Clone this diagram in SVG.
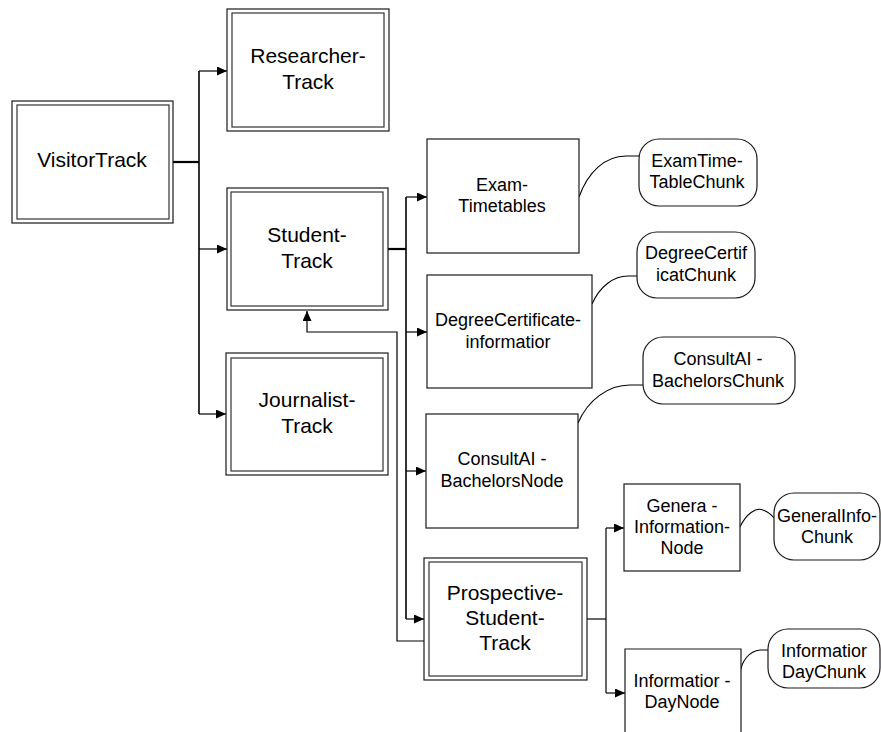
<svg xmlns="http://www.w3.org/2000/svg" width="881" height="732" viewBox="0 0 881 732">
<style>
  .bg { fill: #ffffff; }
  .box { fill: #ffffff; stroke: #1a1a1a; stroke-width: 1.2; }
  .inner { fill: none; stroke: #333333; stroke-width: 1.2; }
  .chunk { fill: #ffffff; stroke: #1a1a1a; stroke-width: 1.2; }
  .t-big { font-family: "Liberation Sans", Arial, sans-serif; font-size: 21px; fill: #000; text-anchor: middle; }
  .t { font-family: "Liberation Sans", Arial, sans-serif; font-size: 18px; fill: #000; text-anchor: middle; }
  .ln { fill: none; stroke: #000; stroke-width: 1.2; }
  .thick { fill: none; stroke: #000; stroke-width: 2.2; }
  .trunk { fill: none; stroke: #000; stroke-width: 1.6; }
  .arr { fill: none; stroke: #000; stroke-width: 1.2; marker-end: url(#ah); }
  .curve { fill: none; stroke: #000; stroke-width: 1.1; }
</style>
<defs>
  <marker id="ah" markerUnits="userSpaceOnUse" markerWidth="10" markerHeight="9" refX="10" refY="4.5" orient="auto">
    <path d="M0,0 L10,4.5 L0,9 z" fill="#000"/>
  </marker>
</defs>
<rect class="bg" x="0" y="0" width="881" height="732"/>

<g id="connectors">
  <path class="thick" d="M173,162 H199"/>
  <path class="trunk" d="M199,71 V414"/>
  <path class="arr" d="M199,71 H227"/>
  <path class="arr" d="M199,249 H227"/>
  <path class="arr" d="M199,414 H226"/>
  <path class="thick" d="M388,249 H406"/>
  <path class="trunk" d="M406,197 V619"/>
  <path class="arr" d="M406,197 H427"/>
  <path class="arr" d="M406,332 H427"/>
  <path class="arr" d="M406,471 H426"/>
  <path class="arr" d="M406,619 H424"/>
  <path class="arr" d="M424,641 H397 V332 H307 V311"/>
  <path class="ln" d="M587,619 H606"/>
  <path class="ln" d="M606,528 V693"/>
  <path class="arr" d="M606,528 H624"/>
  <path class="arr" d="M606,693 H625"/>
  <path class="curve" d="M579,197 C588,172 605,156 626,156 H639"/>
  <path class="curve" d="M592,304 C600,286 614,276 628,276 H637"/>
  <path class="curve" d="M578,423 C588,400 608,385 630,385 H643"/>
  <path class="curve" d="M740,527 C746,514 756,507 763,510 C768,512 771,514 774,518"/>
  <path class="curve" d="M740,675 C741,660 750,651 760,650 H768"/>
</g>

<g id="VisitorTrack">
  <rect class="box" x="12" y="101" width="161" height="122"/>
  <rect class="inner" x="17" y="105" width="152" height="114"/>
  <text class="t-big" x="92" y="167">VisitorTrack</text>
</g>

<g id="ResearcherTrack">
  <rect class="box" x="227" y="9" width="162" height="122"/>
  <rect class="inner" x="232" y="13" width="152" height="114"/>
  <text class="t-big" x="308" y="63">Researcher-</text>
  <text class="t-big" x="308" y="89">Track</text>
</g>

<g id="StudentTrack">
  <rect class="box" x="227" y="188" width="161" height="122"/>
  <rect class="inner" x="231" y="192" width="152" height="114"/>
  <text class="t-big" x="307" y="242">Student-</text>
  <text class="t-big" x="307" y="268">Track</text>
</g>

<g id="JournalistTrack">
  <rect class="box" x="226" y="353" width="162" height="122"/>
  <rect class="inner" x="231" y="358" width="152" height="113"/>
  <text class="t-big" x="307" y="407">Journalist-</text>
  <text class="t-big" x="307" y="433">Track</text>
</g>

<g id="ProspectiveStudentTrack">
  <rect class="box" x="424" y="558" width="163" height="122"/>
  <rect class="inner" x="429" y="562" width="153" height="114"/>
  <text class="t-big" x="505" y="600">Prospective-</text>
  <text class="t-big" x="505" y="625">Student-</text>
  <text class="t-big" x="505" y="650">Track</text>
</g>

<g id="ExamTimetables">
  <rect class="box" x="427" y="139" width="152" height="114"/>
  <text class="t" x="502" y="191">Exam-</text>
  <text class="t" x="502" y="212">Timetables</text>
</g>

<g id="DegreeCertificateInformation">
  <rect class="box" x="427" y="275" width="165" height="113"/>
  <text class="t" x="508" y="326">DegreeCertificate-</text>
  <text class="t" x="508" y="348">informatior</text>
</g>

<g id="ConsultAIBachelorsNode">
  <rect class="box" x="426" y="414" width="152" height="114"/>
  <text class="t" x="502" y="465">ConsultAI -</text>
  <text class="t" x="502" y="487">BachelorsNode</text>
</g>

<g id="GeneralInformationNode">
  <rect class="box" x="624" y="484" width="116" height="87"/>
  <text class="t" x="682" y="512">Genera -</text>
  <text class="t" x="682" y="533">Information-</text>
  <text class="t" x="682" y="554">Node</text>
</g>

<g id="InformationDayNode">
  <path class="box" d="M625,733 V649 H741 V733"/>
  <text class="t" x="682" y="687">Informatior -</text>
  <text class="t" x="682" y="708">DayNode</text>
</g>

<g id="ExamTimeTableChunk">
  <rect class="chunk" x="639" y="139" width="118" height="67" rx="20" ry="20"/>
  <text class="t" x="697" y="167">ExamTime-</text>
  <text class="t" x="697" y="188">TableChunk</text>
</g>

<g id="DegreeCertificatChunk">
  <rect class="chunk" x="637" y="232" width="118" height="66" rx="20" ry="20"/>
  <text class="t" x="696" y="259">DegreeCertif</text>
  <text class="t" x="696" y="281">icatChunk</text>
</g>

<g id="ConsultAIBachelorsChunk">
  <rect class="chunk" x="643" y="337" width="152" height="67" rx="20" ry="20"/>
  <text class="t" x="718" y="365">ConsultAI -</text>
  <text class="t" x="718" y="387">BachelorsChunk</text>
</g>

<g id="GeneralInfoChunk">
  <rect class="chunk" x="774" y="493" width="106" height="67" rx="20" ry="20"/>
  <text class="t" x="827" y="522">GeneralInfo-</text>
  <text class="t" x="827" y="543">Chunk</text>
</g>

<g id="InformationDayChunk">
  <rect class="chunk" x="768" y="629" width="112" height="59" rx="20" ry="20"/>
  <text class="t" x="824" y="657">Informatior</text>
  <text class="t" x="824" y="678">DayChunk</text>
</g>
</svg>
